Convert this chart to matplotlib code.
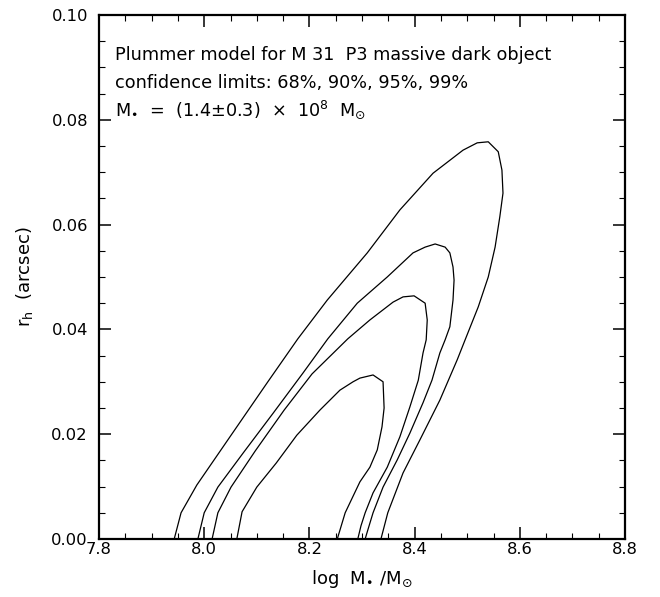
import matplotlib
matplotlib.use("Agg")
import matplotlib.pyplot as plt
from matplotlib.ticker import MultipleLocator, FormatStrFormatter

# contour levels, outermost first (99%, 95%, 90%, 68%)
levels = ["99%", "95%", "90%", "68%"]

logm_99 = [7.943, 7.956, 7.986, 8.049, 8.121, 8.178, 8.234, 8.310, 8.372, 8.435,
           8.492, 8.519, 8.540, 8.559, 8.566, 8.568, 8.562, 8.553, 8.540, 8.521,
           8.496, 8.481, 8.448, 8.410, 8.378, 8.349, 8.336]
rh_99 = [0.0, 0.0050, 0.0103, 0.0195, 0.0300, 0.0382, 0.0456, 0.0546, 0.0628, 0.0698,
         0.0742, 0.0756, 0.0758, 0.0739, 0.0704, 0.0660, 0.0615, 0.0557, 0.0500, 0.0443,
         0.0380, 0.0342, 0.0265, 0.0189, 0.0126, 0.0050, 0.0]

logm_95 = [7.988, 8.000, 8.026, 8.074, 8.131, 8.188, 8.235, 8.291, 8.348, 8.397,
           8.420, 8.439, 8.458, 8.467, 8.473, 8.475, 8.473, 8.467, 8.458, 8.448,
           8.433, 8.416, 8.391, 8.367, 8.340, 8.321, 8.311, 8.306]
rh_95 = [0.0, 0.0050, 0.0099, 0.0164, 0.0240, 0.0317, 0.0382, 0.0450, 0.0500, 0.0546,
         0.0557, 0.0563, 0.0557, 0.0546, 0.0519, 0.0494, 0.0456, 0.0405, 0.0380, 0.0355,
         0.0303, 0.0260, 0.0202, 0.0151, 0.0099, 0.0050, 0.0017, 0.0]

logm_90 = [8.015, 8.026, 8.051, 8.097, 8.152, 8.205, 8.273, 8.315, 8.359, 8.378,
           8.399, 8.420, 8.424, 8.422, 8.416, 8.407, 8.391, 8.372, 8.348, 8.321,
           8.306, 8.298, 8.292]
rh_90 = [0.0, 0.0050, 0.0099, 0.0168, 0.0246, 0.0315, 0.0382, 0.0418, 0.0452, 0.0462,
         0.0464, 0.0450, 0.0418, 0.0380, 0.0355, 0.0303, 0.0252, 0.0195, 0.0137, 0.0088,
         0.0050, 0.0025, 0.0]

logm_68 = [8.062, 8.072, 8.100, 8.137, 8.176, 8.220, 8.258, 8.283, 8.296, 8.321,
           8.340, 8.342, 8.338, 8.329, 8.315, 8.296, 8.268, 8.253]
rh_68 = [0.0, 0.0052, 0.0099, 0.0145, 0.0198, 0.0246, 0.0284, 0.0300, 0.0307, 0.0313,
         0.0300, 0.0250, 0.0214, 0.0170, 0.0137, 0.0109, 0.0050, 0.0]

contours = [(logm_99, rh_99), (logm_95, rh_95), (logm_90, rh_90), (logm_68, rh_68)]

plt.rcParams["font.family"] = "DejaVu Sans"
plt.rcParams["mathtext.fontset"] = "dejavusans"

fig = plt.figure(figsize=(6.6, 5.97), dpi=100)
ax = fig.add_axes([0.15, 0.0972, 0.797, 0.8777])

for xs, ys in contours:
    ax.plot(xs, ys, color="black", lw=0.9, solid_joinstyle="round")

ax.set_xlim(7.8, 8.8)
ax.set_ylim(0.0, 0.10)

ax.xaxis.set_major_locator(MultipleLocator(0.2))
ax.xaxis.set_minor_locator(MultipleLocator(0.05))
ax.yaxis.set_major_locator(MultipleLocator(0.02))
ax.yaxis.set_minor_locator(MultipleLocator(0.005))
ax.xaxis.set_major_formatter(FormatStrFormatter("%.1f"))
ax.yaxis.set_major_formatter(FormatStrFormatter("%.2f"))

ax.tick_params(which="both", direction="in", top=True, right=True, labelsize=11.8,
               colors="black")
ax.tick_params(axis="x", which="major", length=8.5, width=1.1, pad=2)
ax.tick_params(axis="y", which="major", length=8.5, width=1.1, pad=8)
ax.tick_params(which="minor", length=4.3, width=0.8)
for sp in ax.spines.values():
    sp.set_linewidth(1.6)

ax.set_xlabel("log  M$_{•}$ /M$_{\\odot}$", fontsize=13, labelpad=8)
ax.set_ylabel(r"r$_{\rm h}$  (arcsec)", fontsize=13, labelpad=12)

notes = [
    "Plummer model for M 31  P3 massive dark object",
    "confidence limits: " + ", ".join(levels[::-1]),
    "M$_{•}$  =  (1.4$\\pm$0.3)  $\\times$  10$^{8}$  M$_{\\odot}$",
]
for i, line in enumerate(notes):
    ax.text(0.031, 0.923 - i * 0.052, line, transform=ax.transAxes,
            fontsize=12.7, va="center", ha="left")

fig.savefig("out.png", dpi=100)
